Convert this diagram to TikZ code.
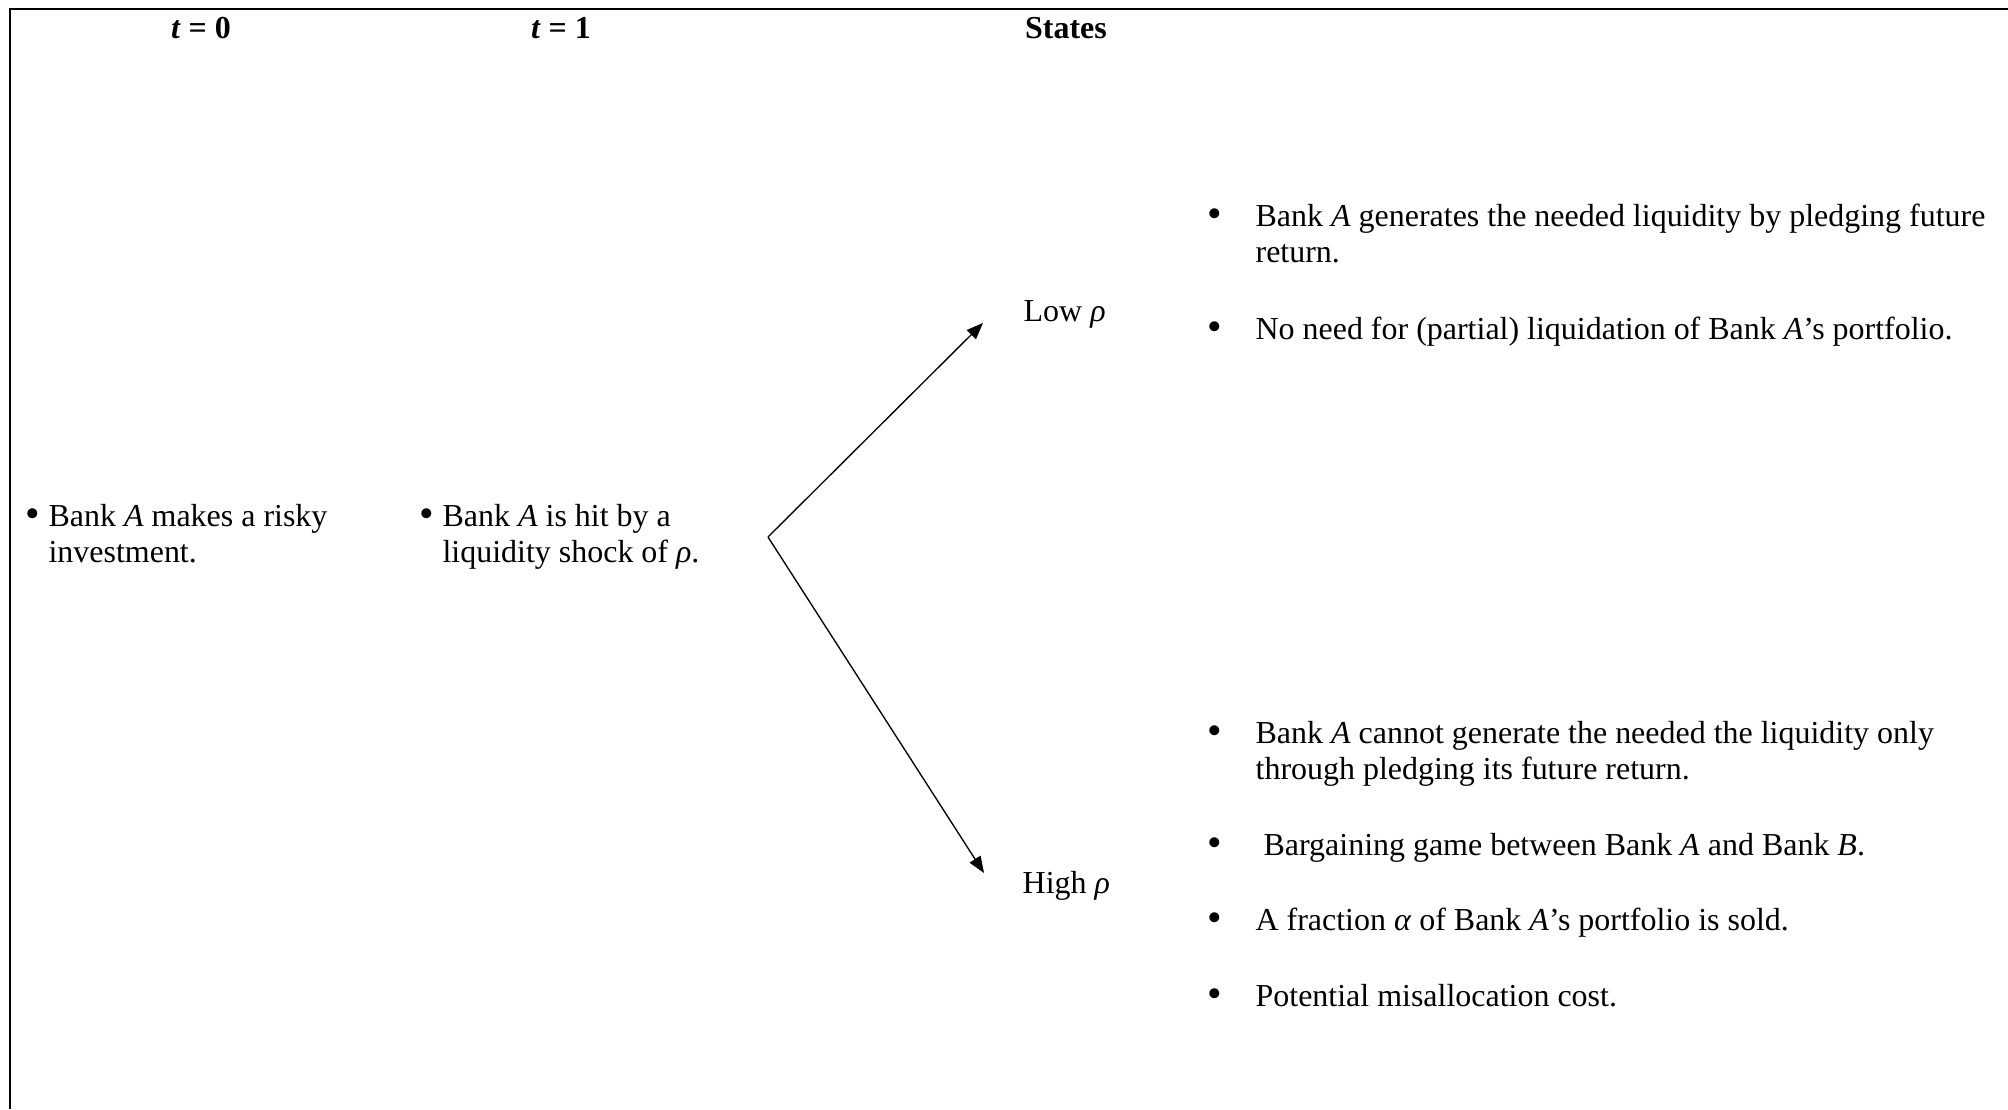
\documentclass[tikz,border=0pt]{standalone}
\usepackage{fontspec}
\setmainfont{Liberation Serif}
\usepackage{graphicx}
\usepackage{tikz}
\usetikzlibrary{positioning, arrows.meta}
\newcommand{\bitem}[2][18pt]{\makebox[#1][l]{\raisebox{-0.1ex}{\scalebox{1.3}{\textbullet}}}\begin{tabular}[t]{@{}l@{}}#2\end{tabular}}

\begin{document}
\begin{tikzpicture}[x=0.3754pt, y=-0.3754pt, >={Triangle[length=6.2pt, width=4.8pt]}, line width=0.5pt,
		txt/.style={anchor=base west, inner sep=0pt, font=\fontsize{12pt}{13.8pt}\selectfont},
		head/.style={txt, anchor=base, font=\fontsize{12pt}{13.8pt}\selectfont\bfseries},
		frame/.style={line width=1pt} ]
	\useasboundingbox (0,0) rectangle (2008,1109);
	\draw[frame] (2008,9) -- (10,9) -- (10,1109);
	
	%Cabeçalho:
	\node[head]		(T0)	at (201,38)		{\textit{t} = 0};
	\node[head]		(T1)	at (561,38)		{\textit{t} = 1};
	\node[head]		(S)		at (1066,38)	{States};
	
	\node[txt]		(invest)	at (25,526)		{\bitem[8.6pt]{Bank \textit{A} makes a risky\\investment.}};
	\node[txt]		(shock)		at (419,526)	{\bitem[8.6pt]{Bank \textit{A} is hit by a\\liquidity shock of \textit{ρ}.}};
	\node[txt]		(low)		at (1023,321)	{Low \textit{ρ}};
	\node[txt]		(high)		at (1022,893)	{High \textit{ρ}};
	
	\node[txt]		(lowA)		at (1207,226)	{\bitem{Bank \textit{A} generates the needed liquidity by pledging future\\return.}};
	\node[txt]		(lowB)		at (1207,339)	{\bitem{No need for (partial) liquidation of Bank \textit{A}’s portfolio.}};
	\node[txt]		(highA)		at (1207,743)	{\bitem{Bank \textit{A} cannot generate the needed the liquidity only\\through pledging its future return.}};
	\node[txt]		(highB)		at (1207,855)	{\bitem{\hspace*{3pt}Bargaining game between Bank \textit{A} and Bank \textit{B}.}};
	\node[txt]		(highC)		at (1207,930)	{\bitem{A fraction \textit{α} of Bank \textit{A}’s portfolio is sold.}};
	\node[txt]		(highD)		at (1207,1006)	{\bitem{Potential misallocation cost.}};
	
	\coordinate (fork)		at (768,537);
	\coordinate (lowtip)	at (983,323);
	\coordinate (hightip)	at (984,873);
	\path[->] (fork) edge (lowtip)
		(fork) edge (hightip);
\end{tikzpicture}
\end{document}
